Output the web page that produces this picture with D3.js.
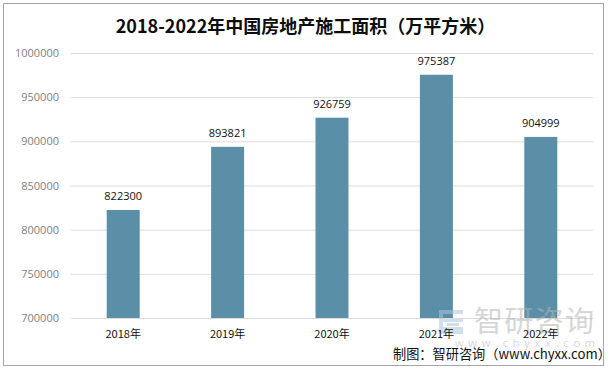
<!DOCTYPE html>
<html>
<head>
<meta charset="utf-8">
<script src="https://cdn.jsdelivr.net/npm/d3@7"></script>
<style>
  html, body { margin: 0; padding: 0; background: #fff; }
  svg { display: block; }
  text { font-family: "Noto Sans CJK SC", "Open Sans", sans-serif; }
</style>
</head>
<body>
<svg id="chart" width="611" height="369"></svg>
<script>
// values
const years = ["2018年", "2019年", "2020年", "2021年", "2022年"];
const areas = [822300, 893821, 926759, 975387, 904999];
const y_ticks = [700000, 750000, 800000, 850000, 900000, 950000, 1000000];

const title_text = "2018-2022年中国房地产施工面积（万平方米）";
const source_text = "制图：智研咨询（www.chyxx.com）";
const mark_name = "智研咨询";
const mark_url = "www.chyxx.com";

const svg = d3.select("#chart");

// outer frame of the chart
svg.append("rect")
  .attr("x", 3.5)
  .attr("y", 3.5)
  .attr("width", 600)
  .attr("height", 362)
  .style("fill", "#fff")
  .style("stroke", "#a6a6a6");

const x = d3.scaleBand()
  .domain(years)
  .range([71, 593])
  .paddingInner(0.684)
  .paddingOuter(0.342);

const y = d3.scaleLinear()
  .domain([700000, 1000000])
  .range([318, 53]);

// gridlines + y labels
const y_axis = d3.axisLeft(y)
  .tickValues(y_ticks)
  .tickSize(-(593 - 71))
  .tickPadding(12)
  .tickFormat(d3.format("d"));

const y_g = svg.append("g")
  .attr("transform", "translate(71,0)")
  .call(y_axis);
y_g.select(".domain").remove();
y_g.selectAll("line").style("stroke", "#dcdcdc");
y_g.selectAll("text")
  .style("font-family", "'Open Sans', sans-serif")
  .style("font-size", "11px")
  .style("fill", "#7f7f7f");

// bars
svg.selectAll(".bar")
  .data(areas)
  .enter()
  .append("rect")
  .attr("class", "bar")
  .attr("x", (d, i) => x(years[i]))
  .attr("y", d => y(d))
  .attr("width", x.bandwidth())
  .attr("height", d => y(700000) - y(d))
  .style("fill", "#5b8fa8");

// value labels
svg.selectAll(".val")
  .data(areas)
  .enter()
  .append("text")
  .attr("class", "val")
  .attr("x", (d, i) => x(years[i]) + x.bandwidth() / 2)
  .attr("y", d => y(d) - 10)
  .attr("text-anchor", "middle")
  .style("font-family", "'Open Sans', sans-serif")
  .style("font-size", "11px")
  .style("fill", "#111")
  .text(d => d);

// watermark, sits over the bars
const mark = svg.append("g");
mark.append("path")
  .attr("d", "M439 310h24v4h-20v5h20v3h-20v5h20v7h-24zM447 323h12v3h-12z")
  .style("fill", "#a9c4dc")
  .style("opacity", 0.55);
mark.append("text")
  .attr("x", 474)
  .attr("y", 332)
  .attr("textLength", 120)
  .style("font-size", "29px")
  .style("fill", "#b5b5b5")
  .style("opacity", 0.55)
  .text(mark_name);
mark.append("text")
  .attr("x", 455)
  .attr("y", 347)
  .attr("textLength", 140)
  .style("font-family", "'Open Sans', sans-serif")
  .style("font-size", "11px")
  .style("fill", "#b5b5b5")
  .style("opacity", 0.55)
  .text(mark_url);

// x labels
svg.selectAll(".cat")
  .data(years)
  .enter()
  .append("text")
  .attr("class", "cat")
  .attr("x", d => x(d) + x.bandwidth() / 2)
  .attr("y", 338)
  .attr("text-anchor", "middle")
  .style("font-size", "11px")
  .style("fill", "#111")
  .text(d => d);

svg.append("text")
  .attr("x", 305.5)
  .attr("y", 33)
  .attr("text-anchor", "middle")
  .style("font-size", "18px")
  .style("font-weight", "700")
  .style("fill", "#0d0d0d")
  .text(title_text);

svg.append("text")
  .attr("x", 393)
  .attr("y", 359)
  .style("font-size", "13.2px")
  .style("fill", "#111")
  .text(source_text);
</script>
</body>
</html>
